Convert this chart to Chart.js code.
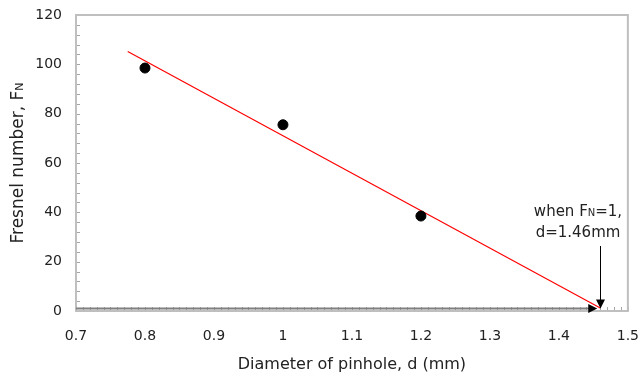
<!DOCTYPE html>
<html>
<head>
<meta charset="utf-8">
<script src="https://cdn.jsdelivr.net/npm/chart.js@4.4.1/dist/chart.umd.min.js"></script>
<style>
  html, body { margin: 0; padding: 0; background: #fff; }
  #wrap { width: 639px; height: 374px; }
</style>
</head>
<body>
<div id="wrap"><canvas id="fresnelChart" width="639" height="374"></canvas></div>
<script>
// Datos medidos
const pinholeD = [0.8, 1.0, 1.2];
const fresnelN = [98.5, 75.5, 38.5];

// Recta de ajuste (extremos)
const fitD = [0.775, 1.46];
const fitF = [105.2, 1.2];

// Anotacion: F_N = 1 cuando d = 1.46 mm
const fnLevel = 1;
const arrowD = 1.46;
const xTicks = [0.7, 0.8, 0.9, 1.0, 1.1, 1.2, 1.3, 1.4, 1.5];
const yTicks = [0, 20, 40, 60, 80, 100, 120];

const FONT = '"DejaVu Sans", sans-serif';
const TEXT = '#222';

function arrowHead(ctx, x, y, dir) {
    // dir: 'down' o 'right'
    ctx.beginPath();
    if (dir === 'down') {
        ctx.moveTo(x, y);
        ctx.lineTo(x - 4.5, y - 9);
        ctx.lineTo(x + 4.5, y - 9);
    } else {
        ctx.moveTo(x, y);
        ctx.lineTo(x - 9, y - 4.5);
        ctx.lineTo(x - 9, y + 4.5);
    }
    ctx.closePath();
    ctx.fill();
}

// Marco, marcas menores, titulo Y y anotacion
const decorPlugin = {
    id: 'decor',
    beforeDatasetsDraw(chart) {
        const { ctx, chartArea: a, scales: { x, y } } = chart;
        ctx.save();
        // marcas menores hacia dentro
        ctx.strokeStyle = '#a6a6a6';
        ctx.lineWidth = 1;
        ctx.beginPath();
        for (let v = 0; v <= 120; v += 4) {
            const py = Math.round(y.getPixelForValue(v)) + 0.5;
            ctx.moveTo(a.left, py);
            ctx.lineTo(a.left + 4, py);
        }
        for (let i = 0; i <= 80; i++) {
            const px = Math.round(x.getPixelForValue(0.7 + i * 0.01)) + 0.5;
            ctx.moveTo(px, a.bottom);
            ctx.lineTo(px, a.bottom - 4);
        }
        ctx.stroke();
        // marco
        ctx.strokeStyle = '#bfbfbf';
        ctx.lineWidth = 2;
        ctx.strokeRect(a.left, a.top, a.right - a.left, a.bottom - a.top);

        // linea F_N = 1
        const yl = y.getPixelForValue(fnLevel);
        const xe = x.getPixelForValue(arrowD) - 3;
        ctx.strokeStyle = '#7f7f7f';
        ctx.lineWidth = 2;
        ctx.beginPath();
        ctx.moveTo(a.left, yl);
        ctx.lineTo(xe - 6, yl);
        ctx.stroke();
        ctx.fillStyle = '#000';
        arrowHead(ctx, xe, yl, 'right');
        ctx.restore();
    },
    afterDatasetsDraw(chart) {
        const { ctx, chartArea: a, scales: { x, y } } = chart;
        ctx.save();
        // flecha vertical
        const xa = Math.round(x.getPixelForValue(arrowD)) + 0.5;
        const yb = y.getPixelForValue(fnLevel);
        ctx.strokeStyle = '#000';
        ctx.fillStyle = '#000';
        ctx.lineWidth = 1;
        ctx.beginPath();
        ctx.moveTo(xa, 246);
        ctx.lineTo(xa, yb - 6);
        ctx.stroke();
        arrowHead(ctx, xa, yb, 'down');

        // texto de la anotacion
        ctx.fillStyle = TEXT;
        ctx.textBaseline = 'alphabetic';
        const big = '15px ' + FONT, small = '10px ' + FONT;
        const parts = [['when F', big], ['N', small], ['=1,', big]];
        ctx.font = big;
        let w = 0;
        parts.forEach(p => { ctx.font = p[1]; w += ctx.measureText(p[0]).width; });
        let tx = 578 - w / 2;
        parts.forEach(p => {
            ctx.font = p[1];
            ctx.fillText(p[0], tx, 216);
            tx += ctx.measureText(p[0]).width;
        });
        ctx.font = big;
        ctx.textAlign = 'center';
        ctx.fillText('d=1.46mm', 578, 237);

        // titulo eje Y con subindice
        ctx.translate(23, (a.top + a.bottom) / 2);
        ctx.rotate(-Math.PI / 2);
        const tparts = [['Fresnel number, F', '17px ' + FONT], ['N', '11px ' + FONT]];
        let tw = 0;
        tparts.forEach(p => { ctx.font = p[1]; tw += ctx.measureText(p[0]).width; });
        ctx.textAlign = 'left';
        let sx = -tw / 2;
        tparts.forEach(p => {
            ctx.font = p[1];
            ctx.fillText(p[0], sx, 0);
            sx += ctx.measureText(p[0]).width;
        });
        ctx.restore();
    }
};

new Chart(document.getElementById('fresnelChart'), {
    type: 'scatter',
    data: {
        datasets: [
            {
                label: 'Medidas',
                data: pinholeD.map((d, i) => ({ x: d, y: fresnelN[i] })),
                backgroundColor: '#000',
                borderColor: '#000',
                pointRadius: 5,
                order: 1
            },
            {
                label: 'Ajuste',
                type: 'line',
                data: fitD.map((d, i) => ({ x: d, y: fitF[i] })),
                borderColor: '#ff0000',
                borderWidth: 1.2,
                pointRadius: 0,
                fill: false,
                order: 2
            }
        ]
    },
    options: {
        responsive: false,
        animation: false,
        layout: { padding: { top: 15, right: 3, left: 0, bottom: 0 } },
        plugins: {
            legend: { display: false },
            tooltip: { enabled: false }
        },
        scales: {
            x: {
                type: 'linear',
                min: 0.7,
                max: 1.5,
                afterBuildTicks: axis => { axis.ticks = xTicks.map(v => ({ value: v })); },
                afterFit: axis => { axis.height = 63; },
                grid: { display: true, drawOnChartArea: false, drawTicks: true, tickLength: 17, color: 'rgba(0,0,0,0)' },
                border: { display: false },
                ticks: {
                    padding: 0,
                    color: TEXT,
                    font: { family: FONT, size: 14 },
                    callback: v => String(+v.toFixed(1))
                },
                title: {
                    display: true,
                    text: 'Diameter of pinhole, d (mm)',
                    color: TEXT,
                    font: { family: FONT, size: 16 },
                    padding: { top: 4, bottom: 0 }
                }
            },
            y: {
                min: 0,
                max: 120,
                afterBuildTicks: axis => { axis.ticks = yTicks.map(v => ({ value: v })); },
                afterFit: axis => { axis.width = 76; },
                grid: { display: true, drawOnChartArea: false, drawTicks: true, tickLength: 14, color: 'rgba(0,0,0,0)' },
                border: { display: false },
                ticks: {
                    padding: 0,
                    color: TEXT,
                    font: { family: FONT, size: 14 }
                }
            }
        }
    },
    plugins: [decorPlugin]
});
</script>
</body>
</html>
